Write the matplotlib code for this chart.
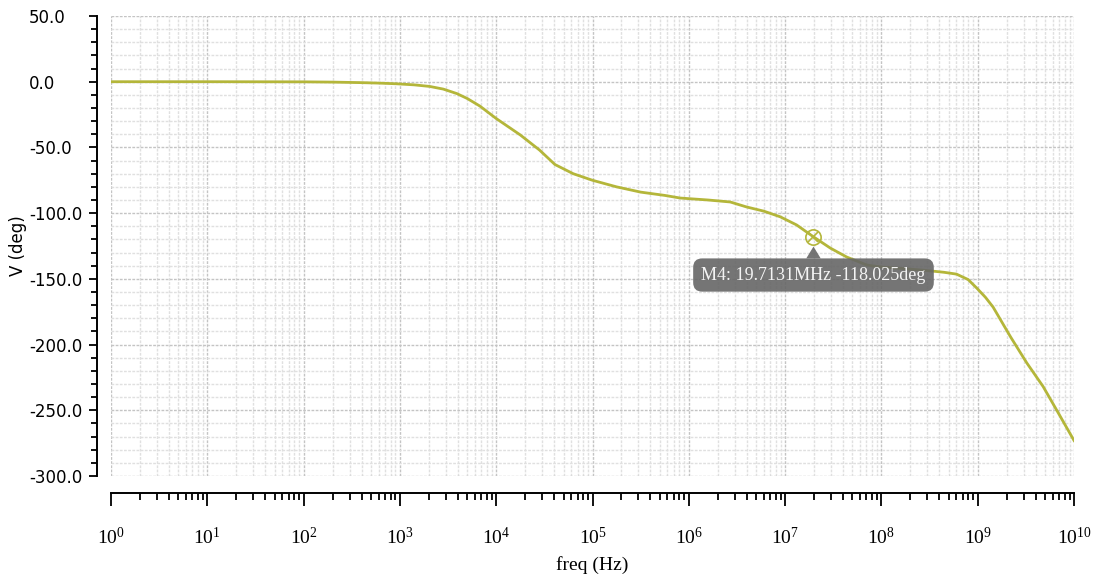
import numpy as np
import matplotlib
matplotlib.use("Agg")
import matplotlib.pyplot as plt
from matplotlib.ticker import FuncFormatter

# phase response, frequency given as log10(f / Hz)
freq_exp = [0, 1, 2, 2.3, 2.6, 2.8, 2.97, 3.15, 3.31, 3.45, 3.59, 3.7, 3.83, 4.0,
            4.12, 4.25, 4.45, 4.61, 4.8, 5.0, 5.25, 5.5, 5.75, 5.91, 6.2, 6.43,
            6.6, 6.78, 6.95, 7.12, 7.2947, 7.47, 7.64, 7.85, 8.0, 8.2, 8.45, 8.65,
            8.78, 8.9, 8.99, 9.08, 9.16, 9.34, 9.51, 9.68, 9.85, 10.0]
phase_deg = [0, 0, -0.1, -0.3, -0.7, -1.1, -1.6, -2.4, -3.6, -5.6, -9.0, -12.8, -18.5, -28,
             -34, -40.5, -52, -63, -70, -75, -80, -84, -86.5, -88.5, -90, -91.5,
             -95.3, -98.5, -102.8, -109, -118.025, -126.6, -133.4, -139.5, -141, -142, -143.5, -145,
             -146.4, -150.5, -157, -164, -171.5, -194, -214, -232, -253.7, -273]

y_major = [-300, -250, -200, -150, -100, -50, 0, 50]
decades = list(range(0, 11))

marker_name = "M4"
marker_freq = 19.7131e6
marker_phase = -118.025

line_color = "#b4b63a"

freq = 10.0 ** np.array(freq_exp)

fig = plt.figure(figsize=(11.01, 5.81), dpi=100)
ax = fig.add_axes([111 / 1101, 1 - 476 / 581, (1074 - 111) / 1101, (476 - 16) / 581])

ax.plot(freq, phase_deg, color=line_color, lw=2, zorder=3)
ax.set_xscale("log")

# marker symbol (circle with cross)
ax.plot([marker_freq], [marker_phase], marker="o", ms=11, mfc="none",
        mec=line_color, mew=1.2, zorder=4)
ax.plot([marker_freq], [marker_phase], marker="x", ms=7,
        mec=line_color, mew=1.2, zorder=4)

label = f"{marker_name}: {marker_freq / 1e6:.4f}MHz {marker_phase:.3f}deg"
ax.annotate(label, xy=(marker_freq, marker_phase), xytext=(0, -27.5),
            textcoords="offset points", ha="center", va="center",
            color="#f4f4f4", fontsize=13, family="Liberation Serif",
            bbox=dict(boxstyle="round,pad=0.45,rounding_size=0.5",
                      fc="#666666", ec="none", alpha=0.9),
            arrowprops=dict(arrowstyle="wedge,tail_width=0.8,shrink_factor=0.5",
                            fc="#666666", ec="none", alpha=0.9,
                            shrinkA=0, shrinkB=7),
            zorder=5)

# axes: detached left and bottom spines
for s in ("top", "right"):
    ax.spines[s].set_visible(False)
ax.spines["left"].set_position(("outward", 10))
ax.spines["bottom"].set_position(("outward", 12))
ax.spines["left"].set_linewidth(1.4)
ax.spines["bottom"].set_linewidth(1.4)

ax.set_yticks(y_major)
ax.set_yticks(np.arange(y_major[0], y_major[-1] + 1, 10), minor=True)
ax.yaxis.set_major_formatter(FuncFormatter(lambda v, p: f"{v:.1f}"))

x_major = [10.0 ** d for d in decades]
x_minor = [m * 10.0 ** d for d in decades[:-1] for m in range(2, 10)]
ax.set_xticks(x_major)
ax.set_xticks(x_minor, minor=True)
ax.set_xticklabels([r"$\mathregular{10^{%d}}$" % d for d in decades],
                   family="Liberation Serif")
ax.set_xticklabels([], minor=True)

ax.set_xlim(1, 1e10)
ax.set_ylim(-300, 50)

ax.tick_params(axis="y", which="major", length=6, width=1.3, pad=43,
               labelsize=12, colors="black")
ax.tick_params(axis="y", which="minor", length=4, width=1.3)
ax.tick_params(axis="x", which="major", length=9, width=1.3, pad=16, labelsize=14)
ax.tick_params(axis="x", which="minor", length=5, width=1.3)
for t in ax.get_yticklabels():
    t.set_horizontalalignment("left")

ax.grid(True, which="major", color="#c4c4c4", ls=(0, (2, 1)), lw=1)
ax.grid(True, which="minor", color="#e0e0e0", ls=(0, (2, 1)), lw=1)
ax.set_axisbelow(True)

ax.set_xlabel("freq (Hz)", family="Liberation Serif", fontsize=14)
ax.xaxis.set_label_coords(0.5, -(556 - 476) / 460)
ax.set_ylabel("V (deg)", fontsize=12, va="center")
ax.yaxis.set_label_coords(-(111 - 18) / 963, 0.5)

fig.savefig("out.png", dpi=100)
